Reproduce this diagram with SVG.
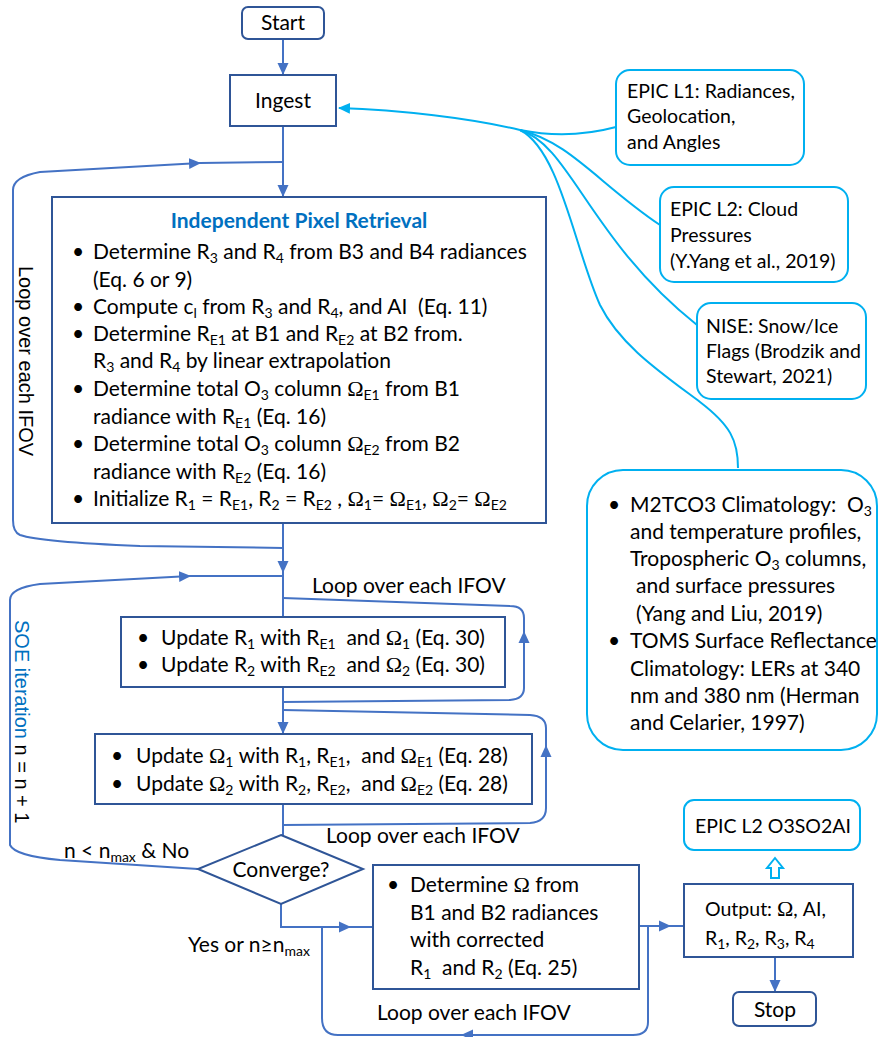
<svg xmlns="http://www.w3.org/2000/svg" width="880" height="1037" viewBox="0 0 880 1037">
<style>
.box{fill:#fff;stroke:#2F5597;stroke-width:2}
.cbox{fill:#fff;stroke:#00B0F0;stroke-width:2}
.ln{fill:none;stroke:#4472C4;stroke-width:2}
.cl{fill:none;stroke:#00B0F0;stroke-width:2}
.t{font-family:Lato,"Liberation Sans",sans-serif;font-size:21px;fill:#000}
.sm{font-size:19.5px}
.c{text-anchor:middle}
.s{font-size:14px;baseline-shift:-4px}
.o{font-family:"Liberation Serif",serif;font-size:22px}
.ti{font-weight:bold;fill:#0070C0}
.v{font-family:"Liberation Sans",Arial,sans-serif;font-size:20px;fill:#000}
</style>
<defs>
<marker id="ab" markerWidth="12" markerHeight="12" refX="11" refY="6" orient="auto" markerUnits="userSpaceOnUse"><path d="M0,0.5 L12,6 L0,11.5 z" fill="#4472C4"/></marker>
<marker id="ac" markerWidth="12" markerHeight="12" refX="11" refY="6" orient="auto" markerUnits="userSpaceOnUse"><path d="M0,0.5 L12,6 L0,11.5 z" fill="#00B0F0"/></marker>
</defs>

<g id="connectors">
<path class="ln" d="M283,39 V74" marker-end="url(#ab)"/>
<path class="ln" d="M283,126 V196" marker-end="url(#ab)"/>
<path class="ln" d="M283,523 V548 L140,546 Q40,542 20,535 Q13,532 13,520 V190 Q13,177 40,172 L200,163" marker-end="url(#ab)"/>
<path class="ln" d="M200,163 L283,162"/>
<path class="ln" d="M283,548 V572" marker-end="url(#ab)"/>
<path class="ln" d="M283,572 V617"/>
<path class="ln" d="M198,869 L60,860 Q15,856 10,845 V600 Q10,588 40,584 L190,576" marker-end="url(#ab)"/>
<path class="ln" d="M190,576 L283,576"/>
<path class="ln" d="M283,687 V702 L510,700 Q524,699 524,688 V632" marker-end="url(#ab)"/>
<path class="ln" d="M524,632 V618 Q524,606 510,606 L283,598"/>
<path class="ln" d="M283,702 V733" marker-end="url(#ab)"/>
<path class="ln" d="M283,804 V825 L530,823 Q546,822 546,808 V746" marker-end="url(#ab)"/>
<path class="ln" d="M546,746 V728 Q546,716 530,715 L283,710"/>
<path class="ln" d="M283,804 V835"/>
<path class="ln" d="M281,904 V927 H350" marker-end="url(#ab)"/>
<path class="ln" d="M350,927 H373"/>
<path class="ln" d="M648,926 V1022 Q648,1035 633,1035 L462,1035" marker-end="url(#ab)"/>
<path class="ln" d="M462,1035 L338,1035 Q322,1035 322,1018 V927"/>
<path class="ln" d="M639,926 H670" marker-end="url(#ab)"/>
<path class="ln" d="M670,926 H684"/>
<path class="ln" d="M775,957 V991" marker-end="url(#ab)"/>
<path class="cl" d="M520,130 C470,118 400,110 339,108" marker-end="url(#ac)"/>
<path class="cl" d="M520,130 C560,138 590,134 616,127"/>
<path class="cl" d="M520,130 C570,142 600,185 660,225"/>
<path class="cl" d="M520,130 C570,145 590,240 697,325"/>
<path class="cl" d="M520,130 C560,150 575,250 600,305 C620,345 660,372 700,402 C730,425 738,440 738,468"/>
<polygon points="775,858 783,868 779,868 779,878 771,878 771,868 767,868" fill="#fff" stroke="#00B0F0" stroke-width="2"/>
</g>

<g id="start">
<rect class="box" x="242" y="7" width="82" height="32" rx="6"/>
<text class="t c" x="283" y="30">Start</text>
</g>

<g id="ingest">
<rect class="box" x="230" y="75" width="106" height="51"/>
<text class="t c" x="283" y="108">Ingest</text>
</g>

<g id="ipr">
<rect class="box" x="52" y="197" width="494" height="326"/>
<text class="t c ti" x="299" y="228">Independent Pixel Retrieval</text>
<text class="t" x="72" y="259">•</text>
<text class="t" x="93" y="259">Determine R<tspan class="s">3</tspan> and R<tspan class="s">4</tspan> from B3 and B4 radiances</text>
<text class="t" x="93" y="286.5">(Eq. 6 or 9)</text>
<text class="t" x="72" y="314">•</text>
<text class="t" x="93" y="314" xml:space="preserve">Compute c<tspan class="s">l</tspan> from R<tspan class="s">3</tspan> and R<tspan class="s">4</tspan>, and AI  (Eq. 11)</text>
<text class="t" x="72" y="341">•</text>
<text class="t" x="93" y="341">Determine R<tspan class="s">E1</tspan> at B1 and R<tspan class="s">E2</tspan> at B2 from.</text>
<text class="t" x="93" y="368">R<tspan class="s">3</tspan> and R<tspan class="s">4</tspan> by linear extrapolation</text>
<text class="t" x="72" y="396">•</text>
<text class="t" x="93" y="396">Determine total O<tspan class="s">3</tspan> column <tspan class="o">Ω</tspan><tspan class="s">E1</tspan> from B1</text>
<text class="t" x="93" y="423.5">radiance with R<tspan class="s">E1</tspan> (Eq. 16)</text>
<text class="t" x="72" y="451">•</text>
<text class="t" x="93" y="451">Determine total O<tspan class="s">3</tspan> column <tspan class="o">Ω</tspan><tspan class="s">E2</tspan> from B2</text>
<text class="t" x="93" y="478.5">radiance with R<tspan class="s">E2</tspan> (Eq. 16)</text>
<text class="t" x="72" y="506">•</text>
<text class="t" x="93" y="506">Initialize R<tspan class="s">1</tspan> = R<tspan class="s">E1</tspan>, R<tspan class="s">2</tspan> = R<tspan class="s">E2</tspan> , <tspan class="o">Ω</tspan><tspan class="s">1</tspan>= <tspan class="o">Ω</tspan><tspan class="s">E1</tspan>, <tspan class="o">Ω</tspan><tspan class="s">2</tspan>= <tspan class="o">Ω</tspan><tspan class="s">E2</tspan></text>
</g>

<g id="update-r">
<rect class="box" x="121" y="617" width="384" height="70"/>
<text class="t" x="137" y="645">•</text>
<text class="t" x="161" y="645" xml:space="preserve">Update R<tspan class="s">1</tspan> with R<tspan class="s">E1</tspan>  and <tspan class="o">Ω</tspan><tspan class="s">1</tspan> (Eq. 30)</text>
<text class="t" x="137" y="672">•</text>
<text class="t" x="161" y="672" xml:space="preserve">Update R<tspan class="s">2</tspan> with R<tspan class="s">E2</tspan>  and <tspan class="o">Ω</tspan><tspan class="s">2</tspan> (Eq. 30)</text>
</g>

<g id="update-omega">
<rect class="box" x="95" y="734" width="437" height="70"/>
<text class="t" x="111" y="763">•</text>
<text class="t" x="136" y="763" xml:space="preserve">Update <tspan class="o">Ω</tspan><tspan class="s">1</tspan> with R<tspan class="s">1</tspan>, R<tspan class="s">E1</tspan>,  and <tspan class="o">Ω</tspan><tspan class="s">E1</tspan> (Eq. 28)</text>
<text class="t" x="111" y="791">•</text>
<text class="t" x="136" y="791" xml:space="preserve">Update <tspan class="o">Ω</tspan><tspan class="s">2</tspan> with R<tspan class="s">2</tspan>, R<tspan class="s">E2</tspan>,  and <tspan class="o">Ω</tspan><tspan class="s">E2</tspan> (Eq. 28)</text>
</g>

<g id="converge">
<polygon class="box" points="281,835 363,869 281,904 198,869"/>
<text class="t c" x="281" y="877">Converge?</text>
</g>

<g id="determine-omega">
<rect class="box" x="373" y="865" width="266" height="124"/>
<text class="t" x="387" y="892">•</text>
<text class="t" x="410" y="892">Determine <tspan class="o">Ω</tspan> from</text>
<text class="t" x="410" y="920">B1 and B2 radiances</text>
<text class="t" x="410" y="947">with corrected</text>
<text class="t" x="410" y="975" xml:space="preserve">R<tspan class="s">1</tspan>  and R<tspan class="s">2</tspan> (Eq. 25)</text>
</g>

<g id="output">
<rect class="box" x="684" y="884" width="169" height="73"/>
<text class="t sm" x="705" y="916">Output: <tspan class="o">Ω</tspan>, AI,</text>
<text class="t sm" x="705" y="945">R<tspan class="s">1</tspan>, R<tspan class="s">2</tspan>, R<tspan class="s">3</tspan>, R<tspan class="s">4</tspan></text>
</g>

<g id="stop">
<rect class="box" x="733" y="992" width="83" height="34" rx="6"/>
<text class="t c" x="775" y="1017">Stop</text>
</g>

<g id="epic-l2-o3so2ai">
<rect class="cbox" x="684" y="800" width="176" height="50" rx="10"/>
<text class="t c sm" x="773" y="833">EPIC L2 O3SO2AI</text>
</g>

<g id="epic-l1">
<rect class="cbox" x="616" y="70" width="188" height="95" rx="14"/>
<text class="t sm" x="627" y="98">EPIC L1: Radiances,</text>
<text class="t sm" x="627" y="123">Geolocation,</text>
<text class="t sm" x="627" y="149">and Angles</text>
</g>

<g id="epic-l2-cloud">
<rect class="cbox" x="660" y="187" width="188" height="95" rx="14"/>
<text class="t sm" x="670" y="216">EPIC L2: Cloud</text>
<text class="t sm" x="670" y="242">Pressures</text>
<text class="t sm" x="670" y="268">(Y.Yang et al., 2019)</text>
</g>

<g id="nise">
<rect class="cbox" x="697" y="303" width="169" height="96" rx="14"/>
<text class="t sm" x="706" y="333">NISE: Snow/Ice</text>
<text class="t sm" x="706" y="358">Flags (Brodzik and</text>
<text class="t sm" x="706" y="383">Stewart, 2021)</text>
</g>

<g id="climatology">
<rect class="cbox" x="587" y="470" width="290" height="280" rx="36"/>
<text class="t" x="608" y="512">•</text>
<text class="t" x="630" y="512" xml:space="preserve">M2TCO3 Climatology:  O<tspan class="s">3</tspan></text>
<text class="t" x="630" y="539">and temperature profiles,</text>
<text class="t" x="630" y="566">Tropospheric O<tspan class="s">3</tspan> columns,</text>
<text class="t" x="636" y="593">and surface pressures</text>
<text class="t" x="636" y="621">(Yang and Liu, 2019)</text>
<text class="t" x="608" y="648">•</text>
<text class="t" x="630" y="648">TOMS Surface Reflectance</text>
<text class="t" x="630" y="676">Climatology: LERs at 340</text>
<text class="t" x="630" y="703">nm and 380 nm (Herman</text>
<text class="t" x="630" y="730">and Celarier, 1997)</text>
</g>

<g id="labels">
<text class="v" transform="translate(19,266) rotate(90)">Loop over each IFOV</text>
<text class="v" transform="translate(15,620) rotate(90)"><tspan fill="#0070C0">SOE iteration</tspan> n = n + 1</text>
<text class="t" x="312" y="593">Loop over each IFOV</text>
<text class="t" x="326" y="843">Loop over each IFOV</text>
<text class="t" x="377" y="1020">Loop over each IFOV</text>
<text class="t" x="64" y="858">n &lt; n<tspan class="s">max</tspan> &amp; No</text>
<text class="t" x="188" y="952">Yes or n≥n<tspan class="s">max</tspan></text>
</g>
</svg>
